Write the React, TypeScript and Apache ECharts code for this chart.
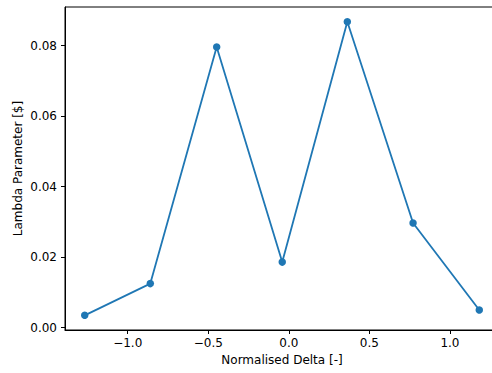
import React, { useEffect, useRef } from "react";
import * as echarts from "echarts";

// Normalised delta (x) against fitted lambda parameter (y)
const deltas = [-1.267, -0.86, -0.448, -0.041, 0.363, 0.771, 1.182];
const lambdas = [0.0035, 0.0125, 0.0796, 0.0186, 0.0868, 0.0297, 0.005];
const xTicks = [-1.0, -0.5, 0.0, 0.5, 1.0];
const yTicks = [0.0, 0.02, 0.04, 0.06, 0.08];

const FONT = "DejaVu Sans";
const fmt = (v: number, d: number) => {
  const s = Math.abs(v).toFixed(d);
  return v < -1e-9 ? "\u2212" + s : s;
};

export default function App() {
  const ref = useRef<HTMLDivElement>(null);
  useEffect(() => {
    if (!ref.current) return;
    const chart = echarts.init(ref.current, undefined, { renderer: "svg" });
    const xPad = (deltas[deltas.length - 1] - deltas[0]) * 0.05;
    const yMin = Math.min(...lambdas);
    const yMax = Math.max(...lambdas);
    const yPad = (yMax - yMin) * 0.05;
    const axisLine = { show: true, onZero: false, lineStyle: { color: "#000", width: 1 } };
    chart.setOption({
      animation: false,
      backgroundColor: "#fff",
      grid: { left: 65, top: 7, bottom: 43, right: 1, show: true, borderColor: "#000", borderWidth: 1 },
      xAxis: {
        type: "value",
        min: deltas[0] - xPad,
        max: deltas[deltas.length - 1] + xPad,
        name: "Normalised Delta [-]",
        nameLocation: "middle",
        nameGap: 24,
        nameMoveOverlap: false,
        nameTextStyle: { fontFamily: FONT, fontSize: 12, color: "#000" },
        axisLine,
        splitLine: { show: false },
        axisTick: { show: true, length: 4, inside: false, customValues: xTicks, lineStyle: { color: "#000" } },
        axisLabel: {
          customValues: xTicks,
          margin: 7,
          fontFamily: FONT,
          fontSize: 12,
          color: "#000",
          formatter: (v: number) => fmt(v, 1),
        },
      },
      yAxis: {
        type: "value",
        min: yMin - yPad,
        max: yMax + yPad,
        name: "Lambda Parameter [$]",
        nameLocation: "middle",
        nameGap: 41,
        nameMoveOverlap: false,
        nameTextStyle: { fontFamily: FONT, fontSize: 12, color: "#000" },
        axisLine,
        splitLine: { show: false },
        axisTick: { show: true, length: 4, inside: false, customValues: yTicks, lineStyle: { color: "#000" } },
        axisLabel: {
          customValues: yTicks,
          margin: 8,
          fontFamily: FONT,
          fontSize: 12,
          color: "#000",
          formatter: (v: number) => fmt(v, 2),
        },
      },
      series: [
        {
          type: "line",
          data: deltas.map((d, i) => [d, lambdas[i]]),
          symbol: "circle",
          symbolSize: 7.5,
          itemStyle: { color: "#1f77b4" },
          lineStyle: { color: "#1f77b4", width: 1.8 },
          clip: false,
        },
      ],
    });
    return () => chart.dispose();
  }, []);
  return (
    <div style={{ position: "fixed", left: 0, top: 0, width: 492, height: 373, overflow: "hidden", background: "#fff" }}>
      <div ref={ref} style={{ width: 500, height: 373 }} />
    </div>
  );
}
